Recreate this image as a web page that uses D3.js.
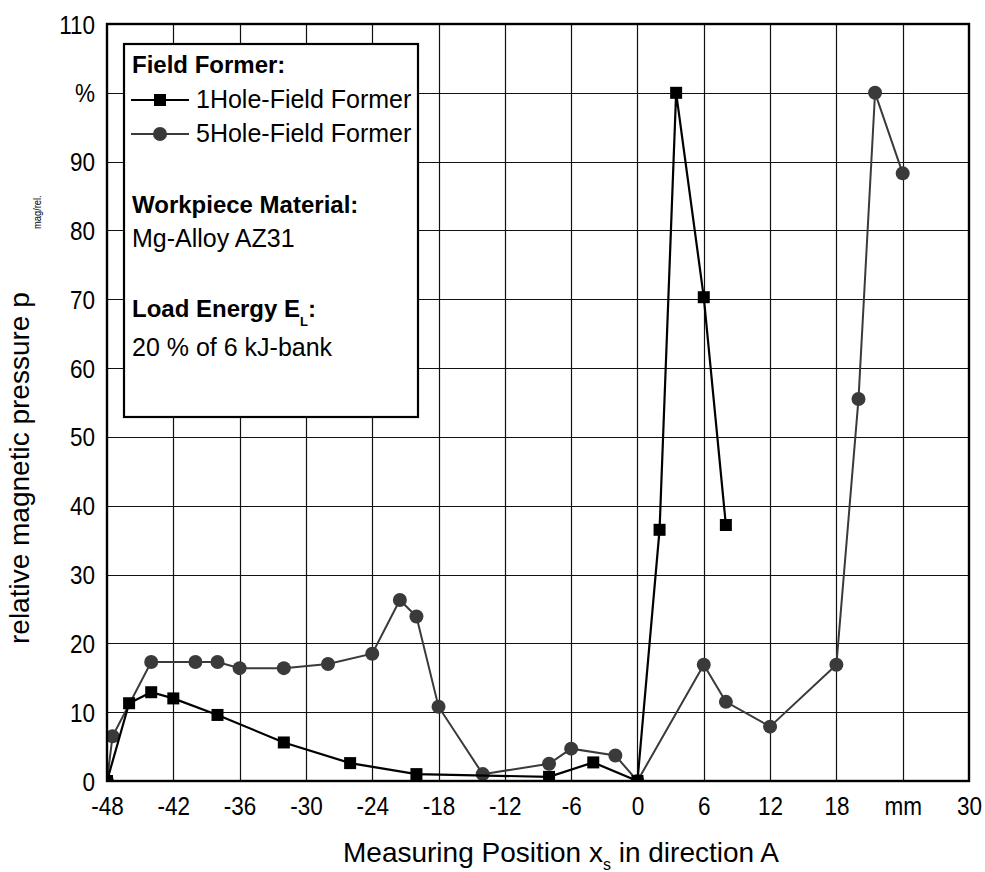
<!DOCTYPE html>
<html><head><meta charset="utf-8">
<script src="https://cdn.jsdelivr.net/npm/d3@7"></script>
<style>
body{margin:0;background:#fff}
text{font-family:"Liberation Sans",Arial,Helvetica,sans-serif;fill:#000}
</style>
</head><body>
<svg id="c" width="985" height="872"></svg>
<script>
// ---- data ----
const oneHoleX = [-48,-46,-44,-42,-38,-32,-26,-20,-8,-4,0,2,3.5,6,8];
const oneHoleY = [0,11.3,12.9,12.0,9.6,5.6,2.6,1.0,0.6,2.7,0,36.5,100,70.3,37.2];
const fiveHoleX = [-48,-47.5,-44,-40,-38,-36,-32,-28,-24,-21.5,-20,-18,-14,-8,-6,-2,0,6,8,12,18,20,21.5,24];
const fiveHoleY = [0,6.5,17.3,17.3,17.3,16.4,16.4,17.0,18.5,26.3,23.9,10.8,1.0,2.5,4.7,3.7,0,16.9,11.5,7.9,16.9,55.5,100,88.3];
const xTickValues = [-48,-42,-36,-30,-24,-18,-12,-6,0,6,12,18,24,30];
const xTickLabels = ["-48","-42","-36","-30","-24","-18","-12","-6","0","6","12","18","mm","30"];
const yTickValues = [0,10,20,30,40,50,60,70,80,90,100,110];
const yTickLabels = ["0","10","20","30","40","50","60","70","80","90","%","110"];
const seriesNames = ["1Hole-Field Former","5Hole-Field Former"];

const L = 107, R = 969, T = 24, B = 781;
const svg = d3.select("#c");
const x = d3.scaleLinear().domain([-48,30]).range([L,R]);
const y = d3.scaleLinear().domain([0,110]).range([B,T]);

// grid
const grid = svg.append("g");
grid.selectAll("line.v").data(xTickValues.slice(1,-1)).join("line")
  .attr("x1",d=>Math.round(x(d))+0.5).attr("x2",d=>Math.round(x(d))+0.5)
  .attr("y1",T).attr("y2",B).attr("stroke","#111").attr("stroke-width",1.2);
grid.selectAll("line.h").data(yTickValues.slice(1,-1)).join("line")
  .attr("y1",d=>Math.round(y(d))+0.5).attr("y2",d=>Math.round(y(d))+0.5)
  .attr("x1",L).attr("x2",R).attr("stroke","#111").attr("stroke-width",1.2);

// axes labels
const xAxis = svg.append("g").attr("transform",`translate(0,${B})`)
  .call(d3.axisBottom(x).tickValues(xTickValues).tickSize(0).tickFormat((d,i)=>xTickLabels[i]));
xAxis.select(".domain").remove();
xAxis.selectAll("text").attr("y",0).attr("dy",null).attr("x",0)
  .attr("transform","translate(0,34) scale(0.9,1)")
  .style("font-size","25px").attr("fill","#000");

const yAxis = svg.append("g").attr("transform",`translate(${L},0)`)
  .call(d3.axisLeft(y).tickValues(yTickValues).tickSize(0).tickFormat((d,i)=>yTickLabels[i]));
yAxis.select(".domain").remove();
yAxis.selectAll("text").attr("x",0).attr("y",0).attr("dy",null)
  .attr("transform","translate(-12,9) scale(0.9,1)")
  .style("font-size","25px").attr("fill","#000");

// clip
svg.append("clipPath").attr("id","clip").append("rect")
  .attr("x",L).attr("y",T).attr("width",R-L).attr("height",B-T);
const plot = svg.append("g").attr("clip-path","url(#clip)");

const five = fiveHoleX.map((v,i)=>[v,fiveHoleY[i]]);
const one = oneHoleX.map((v,i)=>[v,oneHoleY[i]]);
const line = d3.line().x(d=>x(d[0])).y(d=>y(d[1]));

plot.append("path").datum(five).attr("d",line).attr("fill","none")
  .attr("stroke","#3a3a3a").attr("stroke-width",2);
plot.selectAll("circle.f").data(five).join("circle")
  .attr("cx",d=>x(d[0])).attr("cy",d=>y(d[1])).attr("r",7).attr("fill","#3a3a3a");

plot.append("path").datum(one).attr("d",line).attr("fill","none")
  .attr("stroke","#000").attr("stroke-width",2.2);
const sq = 12;
plot.selectAll("rect.o").data(one).join("rect")
  .attr("x",d=>x(d[0])-sq/2).attr("y",d=>y(d[1])-sq/2).attr("width",sq).attr("height",sq).attr("fill","#000");

// frame
svg.append("rect").attr("x",L).attr("y",T).attr("width",R-L).attr("height",B-T)
  .attr("fill","none").attr("stroke","#000").attr("stroke-width",2.4);

// legend
const lg = svg.append("g");
lg.append("rect").attr("x",124).attr("y",44).attr("width",294).attr("height",373)
  .attr("fill","#fff").attr("stroke","#000").attr("stroke-width",2.2);
lg.append("text").attr("x",132).attr("y",73).style("font-size","24px").style("font-weight","bold").text("Field Former:");
// row 1
lg.append("line").attr("x1",131).attr("x2",189).attr("y1",100).attr("y2",100).attr("stroke","#000").attr("stroke-width",2.2);
lg.append("rect").attr("x",160-sq/2).attr("y",100-sq/2).attr("width",sq).attr("height",sq).attr("fill","#000");
lg.append("text").attr("x",196).attr("y",108).style("font-size","25px").text(seriesNames[0]);
// row 2
lg.append("line").attr("x1",131).attr("x2",189).attr("y1",134).attr("y2",134).attr("stroke","#3a3a3a").attr("stroke-width",2);
lg.append("circle").attr("cx",160).attr("cy",134).attr("r",7).attr("fill","#3a3a3a");
lg.append("text").attr("x",196).attr("y",142).style("font-size","25px").text(seriesNames[1]);

lg.append("text").attr("x",132).attr("y",213).style("font-size","24px").style("font-weight","bold").text("Workpiece Material:");
lg.append("text").attr("x",132).attr("y",247).style("font-size","25px").text("Mg-Alloy AZ31");
const le = lg.append("text").attr("x",132).attr("y",317).style("font-size","24px").style("font-weight","bold");
le.append("tspan").text("Load Energy E");
le.append("tspan").attr("dy",9).style("font-size","13px").text("L");
le.append("tspan").attr("dy",-9).text(":");
lg.append("text").attr("x",132).attr("y",356).style("font-size","25px").text("20 % of 6 kJ-bank");

// x title
const xt = svg.append("text").attr("x",343).attr("y",862).style("font-size","28px");
xt.append("tspan").text("Measuring Position x");
xt.append("tspan").attr("dy",8).style("font-size","16px").text("s");
xt.append("tspan").attr("dy",-8).text(" in direction A");

// y title
svg.append("text").attr("transform","translate(29,644) rotate(-90)").style("font-size","28px")
  .text("relative magnetic pressure p");
svg.append("text").attr("transform","translate(41,229) rotate(-90) scale(0.85,1)").style("font-size","11px")
  .text("mag/rel.");
</script>
</body></html>
